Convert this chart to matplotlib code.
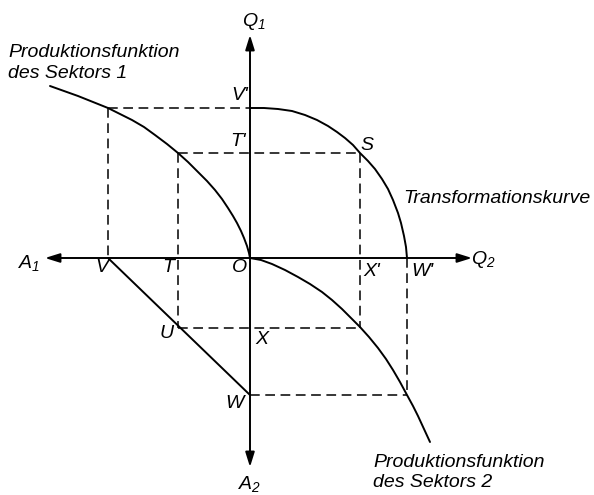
#! /usr/bin/python
# -*- coding:utf-8 -*-
import matplotlib
matplotlib.use('Agg')
import matplotlib.pyplot as plt

# ━━━━━━━━━━━━━━━━━━━━━━━━━━━━━━━━━━━━━━━━━━━━━━━━━━━━━━━━━━
# Data (pixel units from origin O)
# ━━━━━━━━━━━━━━━━━━━━━━━━━━━━━━━━━━━━━━━━━━━━━━━━━━━━━━━━━━
# sector 1: labour A1 (to the left) -> output Q1 (up)
sector1_labour = [0, 1, 3, 6, 9, 13, 17, 22, 28, 35, 43, 52, 62, 72, 83, 95,
                  106, 118, 130, 142, 157, 172, 186, 200]
sector1_output = [0, 5, 12, 20, 27, 35, 42, 50, 59, 68, 77, 86, 96, 105, 114,
                  123, 131, 138, 144, 150, 156, 162, 167, 172]

# transformation curve: Q2 (right) vs Q1 (up)
trans_q2 = [0, 14, 28, 42, 55, 67, 78, 87, 95, 103, 110, 118, 125, 132,
            138, 143, 148, 151, 154, 156, 157]
trans_q1 = [150, 150, 149, 147, 143, 138, 132, 126, 120, 113, 105, 97, 89, 79,
            69, 58, 45, 35, 22, 11, 0]

# sector 2: labour A2 (down) -> output Q2 (right)
sector2_output = [0, 11, 22, 35, 48, 60, 72, 82, 92, 101, 110, 119, 128, 136,
                  143, 150, 157, 163, 168, 174, 180]
sector2_labour = [0, 2, 6, 12, 19, 26, 34, 42, 51, 60, 69, 79, 90, 101,
                  112, 124, 137, 148, 158, 171, 184]

# marked points
labour_total = 142      # O-V
labour_T = 72           # O-T, X = total - T = 70
out_V = 150             # V'
out_T = 105             # T'
out_X = 110             # X'
out_W = 157             # W'
labour_W = 137          # O-W

plt.rcParams['font.family'] = ['Liberation Sans', 'DejaVu Sans']
plt.rcParams['mathtext.fontset'] = 'custom'
plt.rcParams['mathtext.rm'] = 'Liberation Sans:italic'
plt.rcParams['mathtext.it'] = 'Liberation Sans:italic'
plt.rcParams['lines.scale_dashes'] = False

fig = plt.figure(figsize=(5.94, 4.95), dpi=100)
ax = fig.add_axes([0, 0, 1, 1])
ax.set_xlim(-250, 344)
ax.set_ylim(-237, 258)
ax.axis('off')

lw = 1.4
solid = dict(color='k', lw=lw, solid_joinstyle='round', solid_capstyle='round')
dash = dict(color='k', lw=1.1, linestyle=(0, (7, 4)))

# curves
ax.plot([-a for a in sector1_labour], sector1_output, **solid)
ax.plot(trans_q2, trans_q1, **solid)
ax.plot(sector2_output, [-a for a in sector2_labour], **solid)
# V - W line
ax.plot([-labour_total, 0], [0, -labour_W], **solid)

# dashed helper lines
ax.plot([-labour_total, 0], [out_V, out_V], **dash)
ax.plot([-labour_total, -labour_total], [out_V, 0], **dash)
ax.plot([-labour_T, out_X], [out_T, out_T], **dash)
ax.plot([-labour_T, -labour_T], [out_T, -(labour_total - labour_T)], **dash)
ax.plot([-labour_T, out_X], [-(labour_total - labour_T)] * 2, **dash)
ax.plot([out_X, out_X], [out_T, -(labour_total - labour_T)], **dash)
ax.plot([0, out_W], [-labour_W, -labour_W], **dash)
ax.plot([out_W, out_W], [0, -labour_W], **dash)

# axes with arrows
arr = dict(arrowstyle='-|>,head_length=0.8,head_width=0.25', color='k',
           lw=lw, shrinkA=0, shrinkB=0, mutation_scale=11)
for tip in [(-205, 0), (222, 0), (0, 223), (0, -209)]:
    ax.annotate('', xy=tip, xytext=(0, 0), arrowprops=arr)

fs = 14
lab = dict(fontsize=fs, style='italic', ha='center', va='center')
ax.text(-221, -5, '$A_1$', **lab)
ax.text(233, -2, '$Q_2$', **lab)
ax.text(4, 237, '$Q_1$', **lab)
ax.text(0, -226, '$A_2$', **lab)

for s, x, y in [("V'", -10, 163), ("T'", -12, 117), ('S', 117, 113),
                ('V', -148, -10), ('T', -82, -10), ('O', -10, -10),
                ('U', -83, -76), ('X', 12, -82), ("X'", 122, -13),
                ("W'", 172, -13), ('W', -15, -145)]:
    ax.text(x, y, s, **lab)

txt = dict(fontsize=fs, style='italic', ha='left', va='baseline')
ax.text(-242, 201, 'Produktionsfunktion', **txt)
ax.text(-242, 180, 'des Sektors 1', **txt)
ax.text(153, 55, 'Transformationskurve', **txt)
ax.text(123, -209, 'Produktionsfunktion', **txt)
ax.text(123, -229, 'des Sektors 2', **txt)

fig.savefig('out.png', dpi=100)
